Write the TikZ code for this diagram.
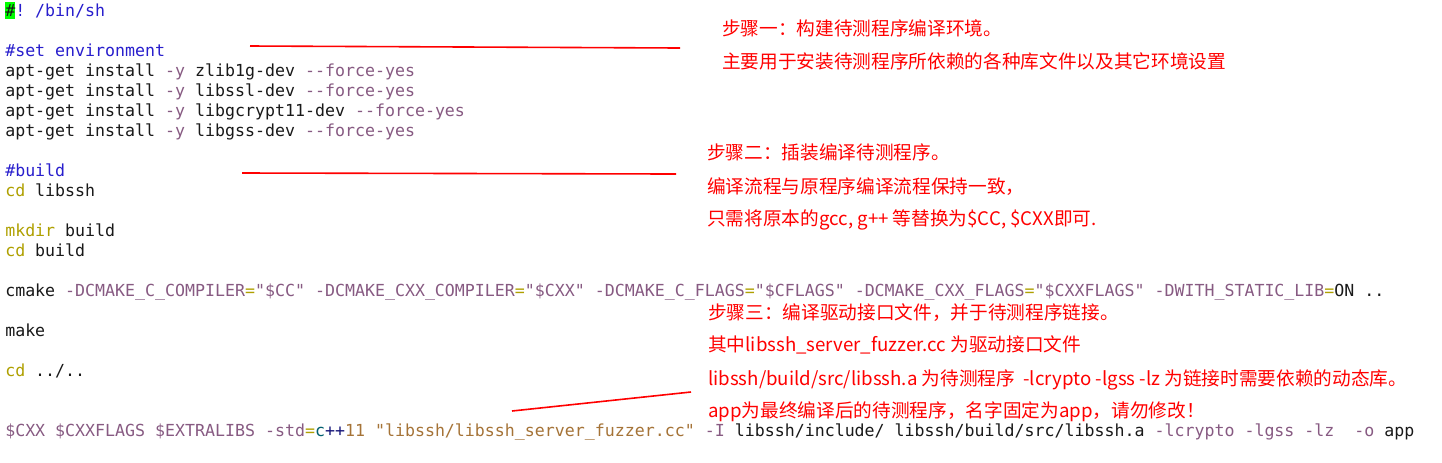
\documentclass[tikz,border=0pt]{standalone}
\usepackage{fontspec}
\setmonofont{DejaVu Sans Mono}
\newfontfamily\cjk{Noto Sans CJK SC}
\usepackage{tikz}

\definecolor{txtc}{RGB}{25,25,25}
\definecolor{cmtc}{RGB}{40,30,205}
\definecolor{optc}{RGB}{135,90,130}
\definecolor{kwc}{RGB}{175,160,0}
\definecolor{strc}{RGB}{165,115,55}
\definecolor{charc}{RGB}{0,95,110}
\definecolor{plusc}{RGB}{20,20,120}
\definecolor{cursorc}{RGB}{0,255,0}

\newcommand\codefont{\ttfamily\fontsize{12.45pt}{15pt}\selectfont}
\newcommand\notefont{\cjk\fontsize{14pt}{17pt}\selectfont}
\newcommand\ccmt[1]{\textcolor{cmtc}{#1}}
\newcommand\copt[1]{\textcolor{optc}{#1}}
\newcommand\ckw[1]{\textcolor{kwc}{#1}}
\newcommand\cstr[1]{\textcolor{strc}{#1}}

\begin{document}
\begin{tikzpicture}[x=0.75pt,y=-0.75pt,
  code/.style={font=\codefont,text=txtc,anchor=base west,inner sep=0pt},
  note/.style={font=\notefont,text=red,anchor=base west,inner sep=0pt},
  pointer/.style={red,line width=1.2pt}]
\useasboundingbox[fill=white] (0,0) rectangle (1442,462);

% script
\fill[cursorc] (5,2) rectangle (15,19);
\node[code] (l1) at (5,16) {\#\ccmt{! /bin/sh}};
\node[code] (l3) at (5,56) {\ccmt{\#set environment}};
\node[code] (l4) at (5,76) {apt-get install \copt{-y} zlib1g-dev \copt{--force-yes}};
\node[code] (l5) at (5,96) {apt-get install \copt{-y} libssl-dev \copt{--force-yes}};
\node[code] (l6) at (5,116) {apt-get install \copt{-y} libgcrypt11-dev \copt{--force-yes}};
\node[code] (l7) at (5,136) {apt-get install \copt{-y} libgss-dev \copt{--force-yes}};
\node[code] (l9) at (5,176) {\ccmt{\#build}};
\node[code] (l10) at (5,196) {\ckw{cd} libssh};
\node[code] (l12) at (5,236) {\ckw{mkdir} build};
\node[code] (l13) at (5,256) {\ckw{cd} build};
\node[code] (l15) at (5,296) {cmake \copt{-DCMAKE\_C\_COMPILER}\ckw{=}\copt{"\$CC"} \copt{-DCMAKE\_CXX\_COMPILER}\ckw{=}\copt{"\$CXX"} \copt{-DCMAKE\_C\_FLAGS}\ckw{=}\copt{"\$CFLAGS"} \copt{-DCMAKE\_CXX\_FLAGS}\ckw{=}\copt{"\$CXXFLAGS"} \copt{-DWITH\_STATIC\_LIB}\ckw{=}ON ..};
\node[code] (l17) at (5,336) {make};
\node[code] (l19) at (5,376) {\ckw{cd} ../..};
\node[code] (l22) at (5,436) {\copt{\$CXX \$CXXFLAGS \$EXTRALIBS -std}\ckw{=}\textcolor{charc}{c}\textcolor{plusc}{++}\cstr{11 "libssh/libssh\_server\_fuzzer.cc"} \copt{-I} libssh/include/ libssh/build/src/libssh.a \copt{-lcrypto -lgss -lz}~ \copt{-o} app};

% notes
\node[note] (s1a) at (722,35) {步骤一：构建待测程序编译环境。};
\node[note] (s1b) at (722,68) {主要用于安装待测程序所依赖的各种库文件以及其它环境设置};
\node[note] (s2a) at (707,159) {步骤二：插装编译待测程序。};
\node[note] (s2b) at (707,193) {编译流程与原程序编译流程保持一致，};
\node[note] (s2c) at (707,225) {只需将原本的gcc, g++ 等替换为\$CC, \$CXX即可.};
\node[note] (s3a) at (708,319) {步骤三：编译驱动接口文件，并于待测程序链接。};
\node[note] (s3b) at (708,351) {其中libssh\_server\_fuzzer.cc 为驱动接口文件};
\node[note] (s3c) at (708,385) {libssh/build/src/libssh.a 为待测程序~ -lcrypto -lgss -lz 为链接时需要依赖的动态库。};
\node[note] (s3d) at (708,417) {app为最终编译后的待测程序，名字固定为app，请勿修改！};

\coordinate (p1a) at (250,46);
\coordinate (p1b) at (680,48);
\coordinate (p2a) at (242,173);
\coordinate (p2b) at (676,174);
\coordinate (p3a) at (512,411);
\coordinate (p3b) at (691,392);
\draw[pointer] (p1a) -- (p1b);
\draw[pointer] (p2a) -- (p2b);
\draw[pointer] (p3a) -- (p3b);
\end{tikzpicture}
\end{document}
